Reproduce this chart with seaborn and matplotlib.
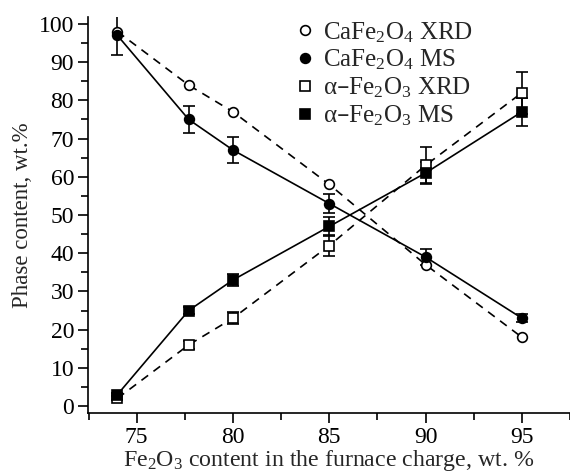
import matplotlib
matplotlib.use("Agg")
import matplotlib.pyplot as plt
import seaborn as sns
import numpy as np
from matplotlib.lines import Line2D
from matplotlib.ticker import MultipleLocator

sns.set_theme(style="ticks")
plt.rcParams['font.family'] = ['Liberation Serif', 'DejaVu Serif']
plt.rcParams['mathtext.default'] = 'regular'

# Data
x_charge = [74, 77.7, 80, 85, 90, 95]
ca_xrd = [98, 84, 77, 58, 37, 18]
ca_ms = [97, 75, 67, 53, 39, 23]
ca_ms_err = [5, 3.6, 3.5, 2.6, 2, 1]
fe_xrd = [2, 16, 23, 42, 63, 82]
fe_xrd_err = [0.5, 1, 1.5, 2.8, 4.7, 5.5]
fe_ms = [3, 25, 33, 47, 61, 77]
fe_ms_err = [0.5, 1, 1.5, 2.5, 2.9, 3.7]

labels = ["CaFe$_2$O$_4$ XRD", "CaFe$_2$O$_4$ MS",
          "α–Fe$_2$O$_3$ XRD", "α–Fe$_2$O$_3$ MS"]

series = [
    (ca_xrd, None, 'o', 'white', (0, (5, 4))),
    (ca_ms, ca_ms_err, 'o', 'black', '-'),
    (fe_xrd, fe_xrd_err, 's', 'white', (0, (5, 4))),
    (fe_ms, fe_ms_err, 's', 'black', '-'),
]

fig = plt.figure(figsize=(5.7, 4.74), dpi=100)
ax = fig.add_axes([88/570, 61/474, 1 - 88/570, (413-17)/474])

handles = []
for (y, err, mk, fc, ls), lab in zip(series, labels):
    if err is not None:
        ax.errorbar(x_charge, y, yerr=err, fmt='none', ecolor='black',
                    elinewidth=1.2, capsize=4, capthick=1.2, zorder=2)
    sns.lineplot(x=x_charge, y=y, ax=ax, color='black', linewidth=1.2,
                 linestyle=ls, marker=mk, markersize=7 if mk == 'o' else 6.5,
                 markerfacecolor=fc, markeredgecolor='black',
                 markeredgewidth=1.2, zorder=3)
    handles.append(Line2D([], [], linestyle='none', marker=mk,
                          markersize=7 if mk == 'o' else 6.5,
                          markerfacecolor=fc, markeredgecolor='black',
                          markeredgewidth=1.2, label=lab))

ax.set_xlim(72.47, 97.5)
ax.set_ylim(-1.83, 101.83)
ax.xaxis.set_major_locator(MultipleLocator(5))
ax.xaxis.set_minor_locator(MultipleLocator(2.5))
ax.yaxis.set_major_locator(MultipleLocator(10))
ax.yaxis.set_minor_locator(MultipleLocator(5))
ax.tick_params(which='major', direction='out', length=7, width=1.2,
               labelsize=17, colors='black', pad=3)
ax.tick_params(which='minor', direction='out', length=5, width=1.2,
               colors='black')
for s in ['top', 'right']:
    ax.spines[s].set_visible(False)
for s in ['left', 'bottom']:
    ax.spines[s].set_linewidth(1.2)
    ax.spines[s].set_color('black')

ax.set_xlabel("Fe$_2$O$_3$ content in the furnace charge, wt. %",
              fontsize=17.2, labelpad=0)
ax.set_ylabel("Phase content, wt.%", fontsize=16.5, labelpad=4)

fig.legend(handles=handles, loc='upper left',
           bbox_to_anchor=(297/570, 1 - 20/474), frameon=False,
           fontsize=18, handlelength=0.6, handletextpad=0.45,
           labelspacing=0.13, borderaxespad=0, borderpad=0)

fig.savefig("out.png", dpi=100)
